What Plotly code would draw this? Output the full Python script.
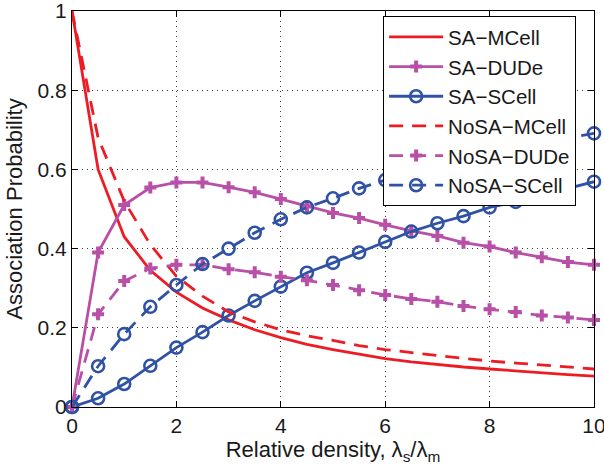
import plotly.graph_objects as go

x = [0, 0.5, 1, 1.5, 2, 2.5, 3, 3.5, 4, 4.5, 5, 5.5, 6, 6.5, 7, 7.5, 8, 8.5, 9, 9.5, 10]

sa_mcell = [1.0, 0.60, 0.43, 0.345, 0.29, 0.25, 0.22, 0.195, 0.175, 0.158, 0.145, 0.133,
            0.122, 0.114, 0.107, 0.101, 0.096, 0.091, 0.087, 0.082, 0.078]
sa_dude = [0.0, 0.39, 0.51, 0.554, 0.567, 0.567, 0.555, 0.542, 0.525, 0.507, 0.49, 0.477,
           0.46, 0.445, 0.432, 0.415, 0.405, 0.39, 0.378, 0.366, 0.359]
sa_scell = [0.0, 0.022, 0.058, 0.104, 0.15, 0.189, 0.231, 0.268, 0.304, 0.339, 0.364, 0.39,
            0.417, 0.443, 0.464, 0.482, 0.504, 0.518, 0.535, 0.552, 0.569]
nosa_mcell = [1.0, 0.68, 0.52, 0.41, 0.33, 0.28, 0.24, 0.215, 0.195, 0.18, 0.168, 0.155,
              0.145, 0.137, 0.13, 0.123, 0.116, 0.111, 0.106, 0.101, 0.096]
nosa_dude = [0.0, 0.234, 0.318, 0.35, 0.359, 0.359, 0.348, 0.34, 0.329, 0.32, 0.308, 0.295,
             0.283, 0.273, 0.266, 0.255, 0.247, 0.24, 0.231, 0.226, 0.22]
nosa_scell = [0.0, 0.103, 0.184, 0.253, 0.308, 0.361, 0.40, 0.44, 0.474, 0.504, 0.527, 0.552,
              0.573, 0.59, 0.608, 0.625, 0.64, 0.655, 0.668, 0.68, 0.691]

x_ticks = [0, 2, 4, 6, 8, 10]
y_ticks = [0, 0.2, 0.4, 0.6, 0.8, 1]
y_tick_text = ["0", "0.2", "0.4", "0.6", "0.8", "1"]

RED = "rgb(237,28,36)"
MAG = "rgb(184,80,168)"
BLUE = "rgb(48,82,164)"
DASH = "14px,9px"
LW = 2.8

fig = go.Figure()
fig.add_trace(go.Scatter(x=x, y=sa_mcell, name="SA\u2212MCell", mode="lines",
                         line=dict(color=RED, width=LW)))
fig.add_trace(go.Scatter(x=x, y=sa_dude, name="SA\u2212DUDe", mode="lines+markers",
                         line=dict(color=MAG, width=LW),
                         marker=dict(symbol="cross", size=10, color=MAG)))
fig.add_trace(go.Scatter(x=x, y=sa_scell, name="SA\u2212SCell", mode="lines+markers",
                         line=dict(color=BLUE, width=LW),
                         marker=dict(symbol="circle-open", size=12, color=BLUE,
                                     line=dict(width=2.6, color=BLUE))))
fig.add_trace(go.Scatter(x=x, y=nosa_mcell, name="NoSA\u2212MCell", mode="lines",
                         line=dict(color=RED, width=LW, dash=DASH)))
fig.add_trace(go.Scatter(x=x, y=nosa_dude, name="NoSA\u2212DUDe", mode="lines+markers",
                         line=dict(color=MAG, width=LW, dash=DASH),
                         marker=dict(symbol="cross", size=10, color=MAG)))
fig.add_trace(go.Scatter(x=x, y=nosa_scell, name="NoSA\u2212SCell", mode="lines+markers",
                         line=dict(color=BLUE, width=LW, dash=DASH),
                         marker=dict(symbol="circle-open", size=12, color=BLUE,
                                     line=dict(width=2.6, color=BLUE))))
fig.update_traces(cliponaxis=False)

FONT = "Liberation Sans"
axis_common = dict(
    showline=True, linecolor="black", linewidth=1, mirror="ticks",
    ticks="inside", ticklen=6, tickcolor="black",
    showgrid=True, gridcolor="rgb(60,60,60)", griddash="1px,4px", gridwidth=1,
    zeroline=False, tickfont=dict(size=21, color="rgb(25,25,25)", family=FONT),
    automargin=False, ticklabeloverflow="allow",
)
fig.update_xaxes(range=[0, 10], tickvals=x_ticks,
                 title=dict(text="Relative density, \u03bb<sub>s</sub>/\u03bb<sub>m</sub>",
                            font=dict(size=22, color="rgb(25,25,25)", family=FONT), standoff=4),
                 **axis_common)
fig.update_yaxes(range=[0, 1], tickvals=y_ticks, ticktext=y_tick_text,
                 title=dict(text="Association Probability",
                            font=dict(size=22, color="rgb(25,25,25)", family=FONT), standoff=8),
                 **axis_common)

fig.update_layout(
    template="none",
    width=604, height=472,
    margin=dict(l=72, r=10, t=11, b=65),
    paper_bgcolor="white", plot_bgcolor="white",
    font=dict(family=FONT, color="black"),
    legend=dict(x=0.596, y=0.987, xanchor="left", yanchor="top",
                bgcolor="white", bordercolor="black", borderwidth=1,
                font=dict(size=20.5, color="rgb(25,25,25)", family=FONT),
                itemwidth=54, tracegroupgap=0),
    showlegend=True,
)

fig.write_html("out.html", config={"displayModeBar": False},
               post_script="document.body.style.margin='0';")
